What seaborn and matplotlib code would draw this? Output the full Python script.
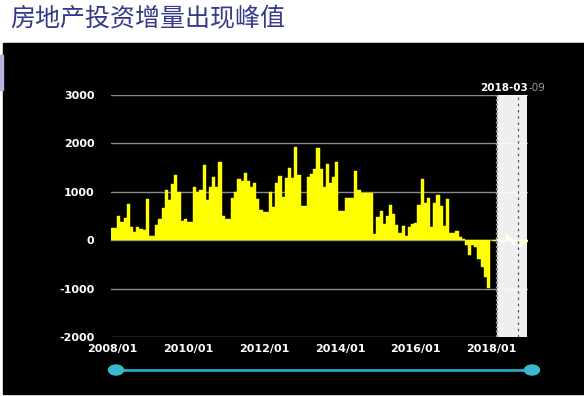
import matplotlib.pyplot as plt
import seaborn as sns
from matplotlib.lines import Line2D
from matplotlib.patches import Ellipse, Rectangle

title = "房地产投资增量出现峰值"

months = [f"{y}/{m:02d}" for y in range(2008, 2019) for m in range(1, 13)]

# monthly increase (2008/01 - 2018/12)
values = [
    245, 245, 500, 380, 465, 740, 265, 175, 265, 240, 210, 855, 90, 90,
    310, 440, 670, 1030, 830, 1170, 1340, 990, 400, 440, 380, 380, 1100, 1000,
    1040, 1560, 830, 1100, 1300, 1100, 1620, 500, 430, 430, 870, 990, 1270, 1215,
    1390, 1215, 1100, 1180, 850, 625, 575, 575, 1000, 695, 1180, 1330, 900, 1285,
    1490, 1285, 1930, 1350, 710, 710,
    1300, 1375, 1480, 1900, 1480, 1100, 1580, 1180, 1300, 1610,
    610, 610, 880, 880, 880, 1440, 1030, 970, 970, 985, 985,
    125, 485, 610, 325, 500, 730, 535, 310, 140, 300, 90, 265, 345,
    360,
    730, 1270, 765, 870, 280, 765, 925, 710, 300, 855,
    140, 140, 180, 70, 35,
    -100, -300, -100, -150, -395, -545, -750, -985,
    10, -20,
    30, -60, -40, 100, 40, -100, -30, -150, -80, -40,
]

x_ticks = ["2008/01", "2010/01", "2012/01", "2014/01", "2016/01", "2018/01"]
y_ticks = [-2000, -1000, 0, 1000, 2000, 3000]
marker_date = "2018-03"
marker_day = "-09"
band_start, band_end, marker_pos = 121.7, 131.3, 128.3

plt.rcParams["font.family"] = ["DejaVu Sans"]

fig = plt.figure(figsize=(5.84, 3.96), dpi=100)
fig.patch.set_facecolor("white")
fig.patches.append(
    Rectangle((3 / 584, 2 / 396), 581 / 584, 351 / 396,
              transform=fig.transFigure, color="black", zorder=-10)
)
fig.patches.append(
    Rectangle((0, 1 - 90 / 396), 3 / 584, 35 / 396,
              transform=fig.transFigure, color="#b4b4dc", zorder=-10)
)

fig.text(10 / 584, 1 - 19 / 396, title, fontsize=18, color="#353a8a",
         va="center", ha="left", family=["Noto Sans CJK SC", "DejaVu Sans"])

ax = fig.add_axes([111 / 584, 1 - 337 / 396, 417 / 584, 242 / 396])
ax.set_facecolor("black")

sns.barplot(x=months, y=values, color="#ffff00", saturation=1, width=1,
            linewidth=0.3, edgecolor="#ffff00", ax=ax, zorder=2)

ax.set_xlim(-0.5, 131.5)
ax.set_ylim(-2000, 3000)
ax.set_yticks(y_ticks)
ax.set_yticklabels([str(v) for v in y_ticks])
ax.set_xticks([months.index(t) for t in x_ticks])
ax.set_xticklabels(x_ticks)
ax.set_xlabel("")
ax.set_ylabel("")
ax.yaxis.grid(True, color="#8a8a8a", lw=1)
ax.xaxis.grid(False)
ax.set_axisbelow(True)
for side in ["top", "right", "left", "bottom"]:
    ax.spines[side].set_visible(False)
ax.tick_params(length=0, colors="white", labelsize=8)
ax.tick_params(axis="y", pad=12)
ax.tick_params(axis="x", pad=5)
for lbl in ax.get_xticklabels() + ax.get_yticklabels():
    lbl.set_fontweight("bold")

# highlighted window
ax.axvspan(band_start, band_end, color="white", alpha=0.94, zorder=3, lw=0)
ax.axvline(band_start, color="#9a9a9a", lw=1.6, ls=(0, (1, 1)), zorder=4)
ax.axvline(marker_pos, color="#555555", lw=0.9, ls=(0, (2, 3)), zorder=4)
ax.text(band_end + 0.3, 1.03, marker_date, transform=ax.get_xaxis_transform(),
        ha="right", va="center", color="white", fontsize=7.5, fontweight="bold")
ax.text(band_end + 0.3, 1.03, marker_day, transform=ax.get_xaxis_transform(),
        ha="left", va="center", color="#9a9a9a", fontsize=7.5)

# range slider below the chart
sy = 1 - 370 / 396
fig.lines.append(Line2D([116 / 584, 532 / 584], [sy, sy], color="#2aa6c0",
                        lw=2, transform=fig.transFigure))
for cx in (116, 532):
    fig.patches.append(
        Ellipse((cx / 584, sy), 15 / 584, 10 / 396, transform=fig.transFigure,
                color="#3ab8d2", zorder=3)
    )

fig.savefig("out.png", dpi=100)
